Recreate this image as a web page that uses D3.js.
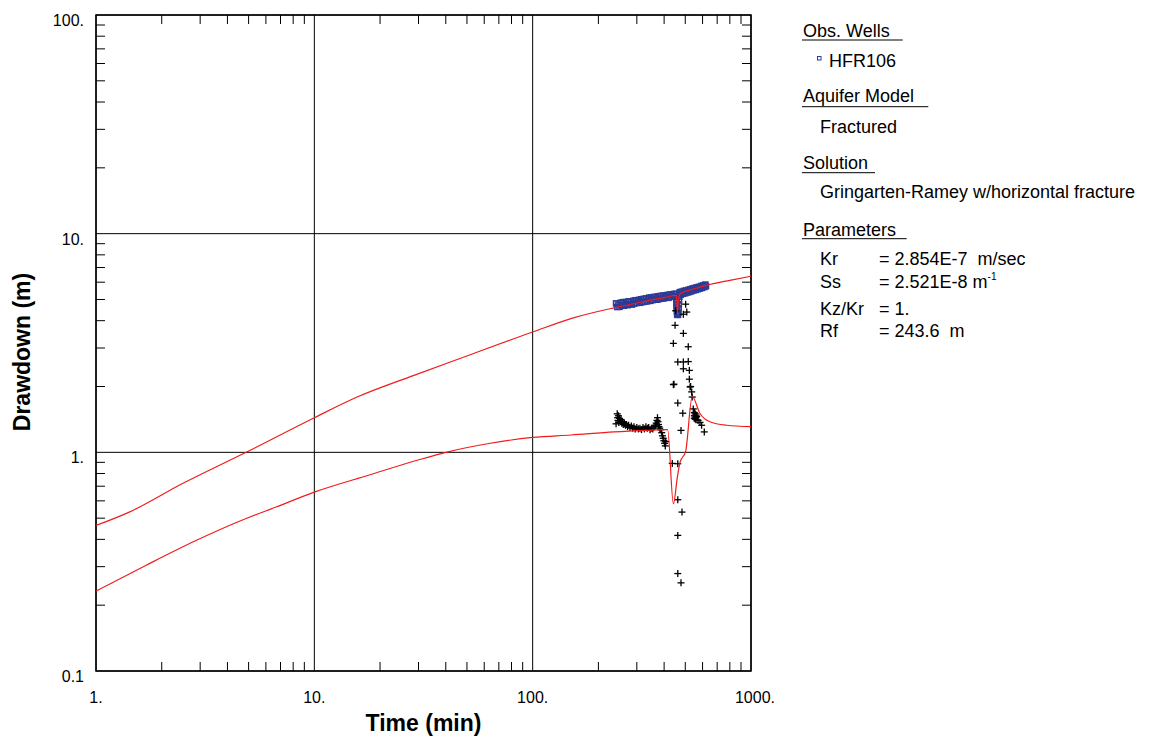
<!DOCTYPE html>
<html>
<head>
<meta charset="utf-8">
<script src="https://d3js.org/d3.v7.min.js"></script>
<style>
    body { margin: 0; background: #fff; }
    text { font-family: "Liberation Sans", Arial, sans-serif; fill: #000; }
    .legend text { font-size: 18px; white-space: pre; }
</style>
</head>
<body>
<svg id="plot" width="1149" height="738"></svg>
<script>
// decade ticks
const xTicks = [1, 10, 100, 1000];
const xTickLabels = ["1.", "10.", "100.", "1000."];
const yTicks = [0.1, 1, 10, 100];
const yTickLabels = ["0.1", "1.", "10.", "100."];

// upper model curve (time min, drawdown m)
const upperT = [1, 1.42, 2.49, 4.87, 10, 15.7, 28.6, 48.5, 100, 155, 236, 300, 400, 456, 460, 466, 475, 550, 622, 800, 1000];
const upperS = [0.463, 0.533, 0.72, 1.0, 1.44, 1.79, 2.25, 2.73, 3.55, 4.13, 4.58, 4.82, 5.1, 5.22, 4.33, 5.05, 5.32, 5.6, 5.8, 6.12, 6.39];

// lower model curve
const lowerT = [1, 1.69, 2.87, 4.87, 6.67, 10, 18, 29.6, 40, 64, 100, 150, 236, 330, 415, 441, 460, 473, 502, 538, 583, 648, 774, 1000];
const lowerS = [0.232, 0.304, 0.395, 0.498, 0.562, 0.658, 0.79, 0.92, 1.0, 1.10, 1.17, 1.2, 1.24, 1.26, 1.27, 0.582, 0.77, 0.90, 1.01, 1.80, 1.51, 1.38, 1.33, 1.31];

// HFR106 observations (squares)
const obsT = [241, 244, 247, 250, 253, 256, 259, 262, 265, 268, 272, 275, 278, 282, 285, 289, 292, 296, 299, 303, 307, 310, 314, 318, 322, 326, 330, 334, 338, 342,
              346, 350, 354, 359, 363, 367, 372, 376, 381, 385, 390, 395, 399, 404, 409, 414, 419, 424, 429, 434, 440, 445, 450, 453,
              454, 455, 456, 456, 457, 458, 459, 461, 463, 465, 466, 467, 468, 469, 470,
              472, 477, 482, 488, 493, 499, 504, 510, 516, 521, 527, 533, 539, 545, 551, 558, 564, 570, 577, 583, 590, 597, 604, 611, 618, 622];
const obsS = [4.80, 4.62, 4.74, 4.63, 4.83, 4.70, 4.86, 4.68, 4.78, 4.87, 4.71, 4.90, 4.76, 4.88, 4.74, 4.93, 4.79, 4.96, 4.82, 4.92, 4.98, 4.83, 5.01, 4.86, 5.03, 4.89, 5.06, 4.90, 5.02, 5.10,
              4.93, 5.11, 4.97, 5.13, 5.00, 5.14, 4.99, 5.17, 5.03, 5.19, 5.05, 5.21, 5.06, 5.20, 5.12, 5.24, 5.09, 5.27, 5.14, 5.28, 5.16, 5.30, 5.19, 5.31,
              5.15, 5.00, 4.85, 4.70, 4.55, 4.40, 4.28, 4.25, 4.26, 4.35, 4.55, 4.75, 4.95, 5.15, 5.30,
              5.40, 5.26, 5.43, 5.31, 5.47, 5.34, 5.50, 5.38, 5.53, 5.41, 5.57, 5.45, 5.61, 5.50, 5.64, 5.53, 5.68, 5.57, 5.71, 5.61, 5.76, 5.65, 5.80, 5.70, 5.85, 5.75];

// second data set (crosses)
const crossT = [241, 244, 245, 246, 247, 248, 250, 252, 254, 256, 258, 260, 263, 266, 269, 272, 275, 279, 283, 287, 291, 295, 300, 305, 310, 315, 320, 325, 330, 335,
                340, 345, 350, 355, 360, 365, 368, 371, 373, 375, 377, 379, 382, 386, 390, 393, 396, 399, 402, 405, 407,
                436, 441, 441, 444, 449, 452, 462, 462, 462, 462, 462, 462, 478, 478, 483, 487, 490, 490, 490, 490, 502, 508, 516, 516, 522, 522, 526, 529, 535, 538, 544,
                550, 550, 550, 555, 555, 555, 560, 560, 560, 564, 572, 584, 594, 611];
const crossS = [1.35, 1.50, 1.44, 1.40, 1.47, 1.37, 1.43, 1.39, 1.41, 1.36, 1.38, 1.34, 1.36, 1.33, 1.34, 1.31, 1.33, 1.30, 1.32, 1.29, 1.31, 1.28, 1.30, 1.28, 1.29, 1.27, 1.30, 1.28, 1.31, 1.29,
                1.30, 1.27, 1.29, 1.28, 1.31, 1.33, 1.36, 1.40, 1.44, 1.38, 1.34, 1.31, 1.29, 1.27, 1.23, 1.19, 1.16, 1.13, 1.10, 1.07, 1.12,
                0.89, 3.15, 2.04, 2.05, 3.81, 4.44, 2.59, 1.68, 0.887, 0.607, 0.417, 0.279, 0.253, 1.26, 0.533, 1.51, 4.28, 2.59, 3.5, 2.41, 4.76, 4.38, 3.04, 2.6, 2.37, 2.16, 1.99, 2.0, 1.89, 1.79, 1.58,
                1.52, 1.47, 1.43, 1.50, 1.45, 1.42, 1.48, 1.44, 1.41, 1.46, 1.40, 1.37, 1.33, 1.24];

const svg = d3.select("svg#plot");
const pLeft = 96, pRight = 751, pTop = 15, pBottom = 671;

const x = d3.scaleLog().domain([1, 1000]).range([pLeft, pRight]);
const y = d3.scaleLog().domain([0.1, 100]).range([pBottom, pTop]);

const plot = svg.append("g");

// grid at decades
plot.selectAll("line.vgrid").data(xTicks).enter().append("line")
    .attr("x1", d => x(d)).attr("x2", d => x(d))
    .attr("y1", pTop).attr("y2", pBottom)
    .attr("stroke", "#000").attr("stroke-width", 1);
plot.selectAll("line.hgrid").data(yTicks).enter().append("line")
    .attr("y1", d => y(d)).attr("y2", d => y(d))
    .attr("x1", pLeft).attr("x2", pRight)
    .attr("stroke", "#000").attr("stroke-width", 1);

// minor ticks, inside on all four sides
const minorX = x.ticks().filter(d => !xTicks.includes(d));
const minorY = y.ticks().filter(d => !yTicks.some(t => Math.abs(t - d) < 1e-9));
const tk = 9;
minorX.forEach(d => {
    plot.append("line").attr("x1", x(d)).attr("x2", x(d)).attr("y1", pBottom).attr("y2", pBottom - tk).attr("stroke", "#000");
    plot.append("line").attr("x1", x(d)).attr("x2", x(d)).attr("y1", pTop).attr("y2", pTop + tk).attr("stroke", "#000");
});
minorY.forEach(d => {
    plot.append("line").attr("y1", y(d)).attr("y2", y(d)).attr("x1", pLeft).attr("x2", pLeft + tk).attr("stroke", "#000");
    plot.append("line").attr("y1", y(d)).attr("y2", y(d)).attr("x1", pRight).attr("x2", pRight - tk).attr("stroke", "#000");
});

// frame
plot.append("rect").attr("x", pLeft).attr("y", pTop).attr("width", pRight - pLeft).attr("height", pBottom - pTop)
    .attr("fill", "none").attr("stroke", "#000").attr("stroke-width", 1.5);

// tick labels
svg.selectAll("text.xl").data(xTicks).enter().append("text")
    .attr("x", (d, i) => x(d) + (i == 3 ? 4 : 0)).attr("y", pBottom + 32)
    .attr("text-anchor", "middle").style("font-size", "16px")
    .text((d, i) => xTickLabels[i]);
svg.selectAll("text.yl").data(yTicks).enter().append("text")
    .attr("x", 84).attr("y", d => y(d) + 11)
    .attr("text-anchor", "end").style("font-size", "16px")
    .text((d, i) => yTickLabels[i]);

// axis titles
svg.append("text").attr("x", (pLeft + pRight) / 2).attr("y", 731)
    .attr("text-anchor", "middle").style("font-size", "23px").style("font-weight", "bold")
    .text("Time (min)");
svg.append("text").attr("transform", "translate(30,352) rotate(-90)")
    .attr("text-anchor", "middle").style("font-size", "23px").style("font-weight", "bold")
    .text("Drawdown (m)");

// data
svg.append("clipPath").attr("id", "clip").append("rect")
    .attr("x", pLeft).attr("y", pTop).attr("width", pRight - pLeft).attr("height", pBottom - pTop);
const data = svg.append("g").attr("clip-path", "url(#clip)");

const sq = 5;
data.selectAll("rect.obs").data(obsT).enter().append("rect")
    .attr("x", (d, i) => x(d) - sq / 2).attr("y", (d, i) => y(obsS[i]) - sq / 2)
    .attr("width", sq).attr("height", sq)
    .attr("fill", "none").attr("stroke", "#2c3b96").attr("stroke-width", 1.6);

const cs = 3.5;
const crosses = data.selectAll("g.cross").data(crossT).enter().append("g")
    .attr("transform", (d, i) => `translate(${x(d)},${y(crossS[i])})`);
crosses.append("line").attr("x1", -cs).attr("x2", cs).attr("stroke", "#000").attr("stroke-width", 1.3);
crosses.append("line").attr("y1", -cs).attr("y2", cs).attr("stroke", "#000").attr("stroke-width", 1.3);

const line = d3.line().x(d => x(d[0])).y(d => y(d[1])).curve(d3.curveMonotoneX);
data.append("path").attr("d", line(upperT.map((t, i) => [t, upperS[i]])))
    .attr("fill", "none").attr("stroke", "#f01c1c").attr("stroke-width", 1.2);
data.append("path").attr("d", line(lowerT.map((t, i) => [t, lowerS[i]])))
    .attr("fill", "none").attr("stroke", "#f01c1c").attr("stroke-width", 1.2);

// legend
const lg = svg.append("g").attr("class", "legend");
const heads = [["Obs. Wells", 36.7, 40, 902.7], ["Aquifer Model", 102.3, 106.7, 928.3], ["Solution", 169.3, 172.7, 875], ["Parameters", 236, 238.7, 906.7]];
heads.forEach(h => {
    lg.append("text").attr("x", 803).attr("y", h[1]).text(h[0]);
    lg.append("line").attr("x1", 802).attr("x2", h[3]).attr("y1", h[2]).attr("y2", h[2]).attr("stroke", "#000").attr("stroke-width", 1);
});
lg.append("rect").attr("x", 817.5).attr("y", 56.5).attr("width", 3.5).attr("height", 3.5)
    .attr("fill", "#fff").attr("stroke", "#2c3b96").attr("stroke-width", 1);
lg.append("text").attr("x", 829).attr("y", 67.3).text("HFR106");
lg.append("text").attr("x", 820).attr("y", 133.3).text("Fractured");
lg.append("text").attr("x", 820).attr("y", 198.3).text("Gringarten-Ramey w/horizontal fracture");

const params = [["Kr", "= 2.854E-7  m/sec", 265], ["Ss", "= 2.521E-8 m", 287.7], ["Kz/Kr", "= 1.", 315], ["Rf", "= 243.6  m", 336.7]];
params.forEach(p => {
    lg.append("text").attr("x", 820).attr("y", p[2]).text(p[0]);
    const t = lg.append("text").attr("x", 879).attr("y", p[2]).text(p[1]);
    if (p[0] == "Ss") t.append("tspan").attr("dy", -8).style("font-size", "10px").text("-1");
});
</script>
</body>
</html>
